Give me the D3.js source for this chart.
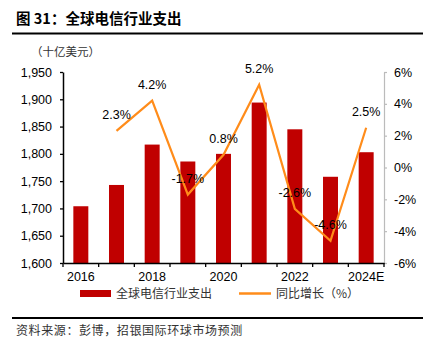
<!DOCTYPE html>
<html><head><meta charset="utf-8">
<script src="https://cdn.jsdelivr.net/npm/d3@7"></script>
<style>body{margin:0;background:#fff;}svg{display:block;}</style>
</head><body>
<svg id="c" width="432" height="355"></svg>
<script>
const categories = ["2016","2017","2018","2019","2020","2021","2022","2023","2024E"];
const spending = [1704, 1743, 1817, 1786, 1800, 1894, 1845, 1758, 1803];
const growthCategories = ["2017","2018","2019","2020","2021","2022","2023","2024E"];
const growth = [2.3, 4.2, -1.7, 0.8, 5.2, -2.6, -4.6, 2.5];
const leftTicks = [1600,1650,1700,1750,1800,1850,1900,1950];
const rightTicks = [-6,-4,-2,0,2,4,6];
const xLabels = ["2016","2018","2020","2022","2024E"];

const svg = d3.select("#c");
const font = "Liberation Sans, Arial, sans-serif";
const cjk = "'Noto Sans CJK SC', sans-serif";
const L = 63, R = 384, T = 72, B = 263;
const x = d3.scaleBand().domain(categories).range([L, R]).paddingInner(0.58).paddingOuter(0.29);
const yL = d3.scaleLinear().domain([1600, 1950]).range([B, T]);
const yR = d3.scaleLinear().domain([-6, 6]).range([B, T]);

// title
svg.append("text").attr("x", 16).attr("y", 24).attr("font-family", cjk).attr("font-weight", "bold")
  .attr("font-size", 14.5).attr("fill", "#000").text("图 31：全球电信行业支出");
svg.append("line").attr("x1", 12).attr("x2", 423).attr("y1", 33.5).attr("y2", 33.5).attr("stroke", "#000").attr("stroke-width", 2);
svg.append("text").attr("x", 31).attr("y", 56).attr("font-family", cjk).attr("font-size", 11.5)
  .attr("fill", "#333").text("（十亿美元）");

// bars
svg.append("g").selectAll("rect").data(categories).join("rect")
  .attr("x", d => x(d)).attr("width", x.bandwidth())
  .attr("y", (d, i) => yL(spending[i])).attr("height", (d, i) => B - yL(spending[i]))
  .attr("fill", "#C00000");

// left axis
const gL = svg.append("g").attr("transform", `translate(${L},0)`)
  .call(d3.axisLeft(yL).tickValues(leftTicks).tickFormat(d3.format(",")).tickSize(3).tickPadding(8).tickSizeOuter(0));
gL.select(".domain").attr("stroke", "#000").attr("stroke-width", 1.5);
gL.selectAll(".tick line").attr("stroke", "#000").attr("stroke-width", 1.3);
gL.selectAll("text").attr("font-family", font).attr("font-size", 12.5).attr("fill", "#000");

// right axis
const gR = svg.append("g").attr("transform", `translate(${R},0)`)
  .call(d3.axisRight(yR).tickValues(rightTicks).tickFormat(d => d + "%").tickSize(3).tickPadding(7).tickSizeOuter(0));
gR.select(".domain").attr("stroke", "#bbb").attr("stroke-width", 1.2);
gR.selectAll(".tick line").attr("stroke", "#bbb").attr("stroke-width", 1.2);
gR.selectAll("text").attr("font-family", font).attr("font-size", 12.5).attr("fill", "#000");

// bottom axis
const xb = d3.scaleBand().domain(categories).range([L, R]);
const gB = svg.append("g").attr("transform", `translate(0,${B})`)
  .call(d3.axisBottom(xb).tickValues(xLabels).tickSize(0).tickPadding(9).tickSizeOuter(0));
gB.select(".domain").attr("stroke", "#000").attr("stroke-width", 1.5);
gB.selectAll("text").attr("font-family", font).attr("font-size", 12.5).attr("fill", "#000");
// boundary ticks
svg.append("g").selectAll("line").data(d3.range(categories.length + 1)).join("line")
  .attr("x1", i => L + i * xb.step()).attr("x2", i => L + i * xb.step())
  .attr("y1", B).attr("y2", B + 4).attr("stroke", "#000").attr("stroke-width", 1.3);

// line
const cx = d => x(d) + x.bandwidth() / 2;
svg.append("path").datum(growthCategories)
  .attr("d", d3.line().x(d => cx(d)).y((d, i) => yR(growth[i])))
  .attr("fill", "none").attr("stroke", "#FF8C1A").attr("stroke-width", 2.2);

svg.append("g").selectAll("text").data(growthCategories).join("text")
  .attr("x", d => cx(d)).attr("y", (d, i) => yR(growth[i]) - 12)
  .attr("text-anchor", "middle").attr("font-family", font).attr("font-size", 12.5).attr("fill", "#000")
  .text((d, i) => growth[i].toFixed(1) + "%");

// legend
svg.append("rect").attr("x", 80).attr("y", 290).attr("width", 31).attr("height", 7).attr("fill", "#C00000");
svg.append("text").attr("x", 116).attr("y", 298).attr("font-family", cjk).attr("font-size", 12).attr("fill", "#333").text("全球电信行业支出");
svg.append("line").attr("x1", 239).attr("x2", 271).attr("y1", 293.5).attr("y2", 293.5).attr("stroke", "#FF8C1A").attr("stroke-width", 2.5);
svg.append("text").attr("x", 276).attr("y", 298).attr("font-family", cjk).attr("font-size", 12).attr("fill", "#333").text("同比增长（%）");

// footer
svg.append("line").attr("x1", 12).attr("x2", 423).attr("y1", 318).attr("y2", 318).attr("stroke", "#000").attr("stroke-width", 2);
svg.append("text").attr("x", 16).attr("y", 335).attr("font-family", cjk).attr("font-size", 12).attr("letter-spacing", 0.6).attr("fill", "#333").text("资料来源：彭博，招银国际环球市场预测");
</script>
</body></html>
